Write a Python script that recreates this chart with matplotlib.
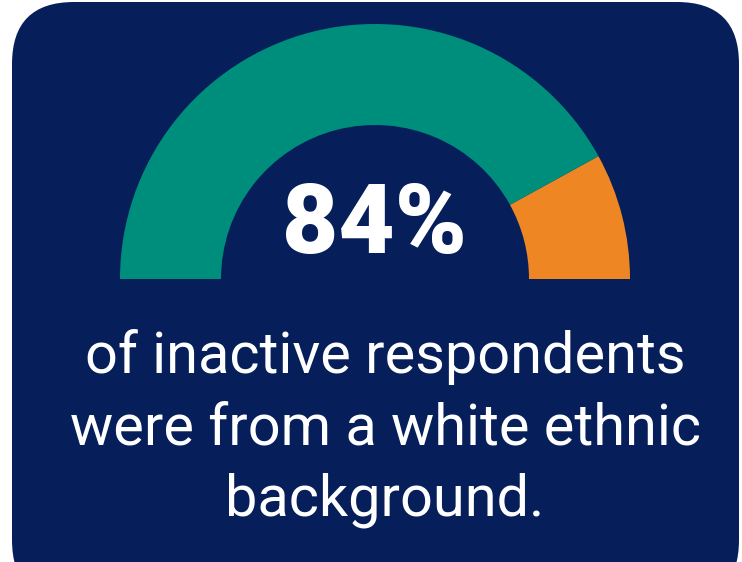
import matplotlib.pyplot as plt
from matplotlib.patches import Wedge, FancyBboxPatch

# gauge data
labels = ['White', 'Other']
values = [84, 16]
colors = ['#008E7C', '#EE8623']
headline = '84%'
caption = ['of inactive respondents', 'were from a white ethnic', 'background.']

navy = '#061F5B'

W, H = 742, 562
fig = plt.figure(figsize=(W / 100, H / 100), dpi=100)
ax = fig.add_axes([0, 0, 1, 1])
ax.set_xlim(0, W)
ax.set_ylim(H, 0)
ax.axis('off')

# rounded background
bg = FancyBboxPatch((12 + 62, 2 + 62), 727 - 124, 600 - 124,
                    boxstyle='round,pad=62', fc=navy, ec='none')
ax.add_patch(bg)

# half-donut gauge, drawn from the right (0 deg) towards the left (180 deg)
cx, cy = 375, 279
r_out, r_in = 255, 154
total = sum(values)
start = 0
for v, c in zip(values[::-1], colors[::-1]):
    span = 180 * v / total
    # y axis is flipped, so angles go negative to draw upward
    ax.add_patch(Wedge((cx, cy), r_out, -(start + span), -start,
                       width=r_out - r_in, fc=c, ec='none'))
    start += span

ax.text(cx, 253, headline, ha='center', va='baseline', color='white',
        fontsize=70, fontweight='black', family='Roboto')

for i, line in enumerate(caption):
    ax.text(cx + 10, 373 + i * 71.5, line, ha='center', va='baseline',
            color='white', fontsize=41.5, family='Roboto')

fig.savefig('out.png', dpi=100)
